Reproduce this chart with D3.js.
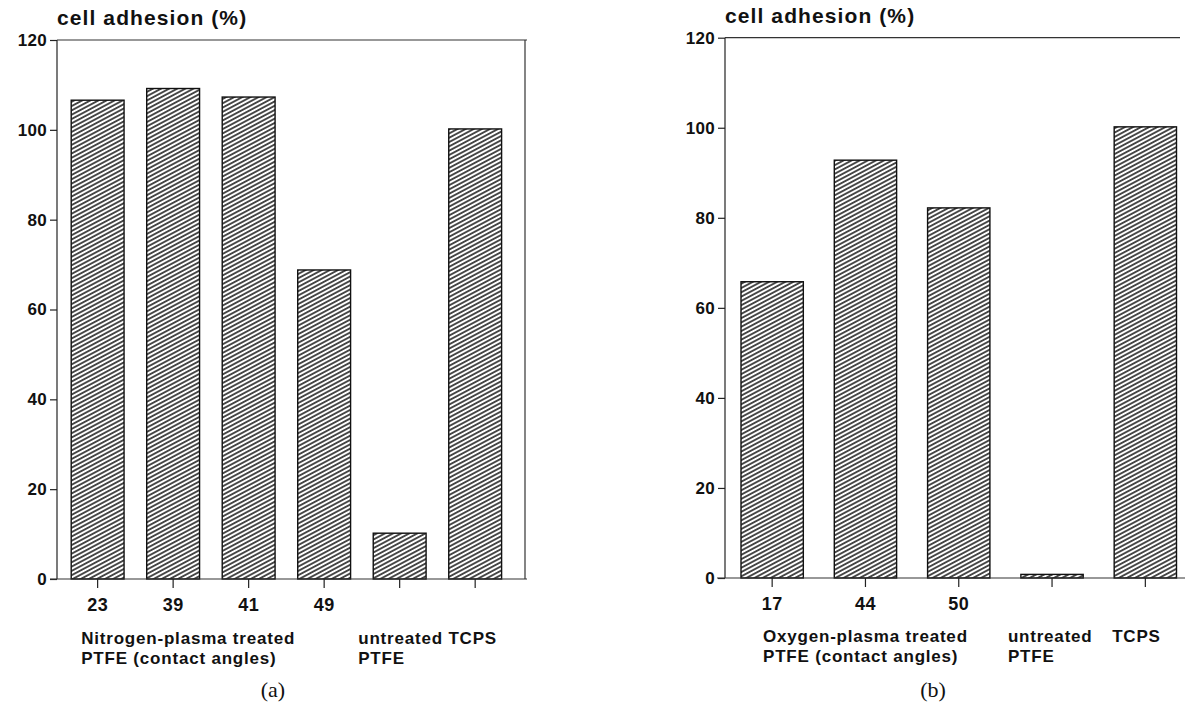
<!DOCTYPE html>
<html>
<head>
<meta charset="utf-8">
<script src="https://cdn.jsdelivr.net/npm/d3@7"></script>
<style>
  html, body { margin: 0; padding: 0; background: #fff; }
  svg { display: block; }
  .lbl { font-family: "Liberation Sans", Arial, sans-serif; font-weight: bold; fill: #111; }
  .cap { font-family: "Liberation Serif", "Times New Roman", serif; fill: #111; }
</style>
</head>
<body>
<svg id="chart" width="1185" height="702"></svg>
<script>
// ---- data ----
const yTicks = [0, 20, 40, 60, 80, 100, 120];
const yTitle = "cell adhesion (%)";

const categoriesA = ["23", "39", "41", "49", "untreated PTFE", "TCPS"];
const valuesA = [106.6, 109.2, 107.3, 68.8, 10.2, 100.2];
const tickLabelsA = ["23", "39", "41", "49", "", ""];
const groupLabelsA = [
  { at: "23", lines: ["Nitrogen-plasma treated", "PTFE (contact angles)"] },
  { at: "untreated PTFE", lines: ["untreated TCPS", "PTFE"] }
];
const captionA = "(a)";

const categoriesB = ["17", "44", "50", "untreated PTFE", "TCPS"];
const valuesB = [65.8, 92.8, 82.2, 0.8, 100.2];
const tickLabelsB = ["17", "44", "50", "", ""];
const groupLabelsB = [
  { at: "17", lines: ["Oxygen-plasma treated", "PTFE (contact angles)"] },
  { at: "untreated PTFE", lines: ["untreated", "PTFE"] },
  { at: "TCPS", lines: ["TCPS"] }
];
const captionB = "(b)";

const svg = d3.select("#chart");

// hatch pattern
const defs = svg.append("defs");
const pat = defs.append("pattern")
  .attr("id", "hatch")
  .attr("patternUnits", "userSpaceOnUse")
  .attr("width", 4).attr("height", 3.8)
  .attr("patternTransform", "rotate(-28)");
pat.append("rect").attr("width", 4).attr("height", 3.8).attr("fill", "#fff");
pat.append("line").attr("x1", 0).attr("y1", 1.9).attr("x2", 4).attr("y2", 1.9)
  .attr("stroke", "#222").attr("stroke-width", 1.6);

function panel(cfg) {
  const g = svg.append("g");
  const y = d3.scaleLinear().domain([0, 120]).range([cfg.y0, cfg.y120]);
  const x = d3.scaleBand().domain(cfg.categories)
    .range(cfg.xRange).paddingInner(cfg.pad).paddingOuter(0);

  // bars
  g.selectAll("rect.bar").data(cfg.values).enter().append("rect")
    .attr("class", "bar")
    .attr("x", (d, i) => x(cfg.categories[i]))
    .attr("width", x.bandwidth())
    .attr("y", d => y(d))
    .attr("height", d => y(0) - y(d))
    .attr("fill", "url(#hatch)")
    .attr("stroke", "#111").attr("stroke-width", 1.4);

  // y axis
  const yAxis = d3.axisLeft(y).tickValues(yTicks).tickSize(7).tickPadding(3);
  const ya = g.append("g").attr("transform", `translate(${cfg.axisX},0)`).call(yAxis);
  ya.select(".domain").attr("stroke", "#222").attr("stroke-width", 1.2)
    .attr("d", `M0,${cfg.y120}V${cfg.y0}`);
  ya.selectAll(".tick line").attr("stroke", "#222").attr("stroke-width", 1.2);
  ya.selectAll(".tick text").attr("font-size", 17)
    .style("font-family", '"Liberation Sans", Arial, sans-serif').style("font-weight", "bold")
    .style("letter-spacing", "0.3px").attr("fill", "#111");

  // x axis (baseline + ticks)
  const xAxis = d3.axisBottom(x).tickSize(9).tickPadding(10)
    .tickFormat((d, i) => cfg.tickLabels[i]);
  const xa = g.append("g").attr("transform", `translate(0,${cfg.y0})`).call(xAxis);
  xa.select(".domain").attr("stroke", "#333").attr("stroke-width", 1.2)
    .attr("d", `M${cfg.baseX0},0H${cfg.baseX1}`);
  xa.selectAll(".tick line").attr("stroke", "#222").attr("stroke-width", 1.2);
  xa.selectAll(".tick text").attr("font-size", 18)
    .style("font-family", '"Liberation Sans", Arial, sans-serif').style("font-weight", "bold")
    .style("letter-spacing", "0.4px").attr("fill", "#111");

  // frame top and right
  g.append("line").attr("x1", cfg.axisX).attr("x2", cfg.topX1)
    .attr("y1", cfg.y120).attr("y2", cfg.y120).attr("stroke", "#333").attr("stroke-width", 1.2);
  if (cfg.rightX) {
    g.append("line").attr("x1", cfg.rightX).attr("x2", cfg.rightX)
      .attr("y1", cfg.y120).attr("y2", cfg.y0).attr("stroke", "#333").attr("stroke-width", 1.2);
  }

  // y title
  g.append("text").attr("class", "lbl").attr("x", cfg.axisX).attr("y", cfg.titleY)
    .attr("font-size", 21).style("letter-spacing", "1.1px").text(yTitle);

  // group labels
  cfg.groups.forEach((gr, gi) => {
    const x0 = x(gr.at) + cfg.labelOffsets[gi];
    const t = g.append("text").attr("class", "lbl").attr("font-size", 17)
      .style("letter-spacing", "0.8px");
    gr.lines.forEach((ln, k) => {
      t.append("tspan").attr("x", x0).attr("y", cfg.groupY + k * 20).text(ln);
    });
  });

  // caption
  g.append("text").attr("class", "cap").attr("x", cfg.capX).attr("y", 697)
    .attr("text-anchor", "middle").attr("font-size", 22).text(cfg.caption);
}

panel({
  categories: categoriesA, values: valuesA, tickLabels: tickLabelsA, groups: groupLabelsA,
  caption: captionA, capX: 273,
  y0: 579, y120: 40, axisX: 57, xRange: [71.2, 501.6], pad: 0.3,
  baseX0: 50, baseX1: 527, topX1: 527, rightX: 525,
  titleY: 25, groupY: 644, labelOffsets: [10, -15]
});

panel({
  categories: categoriesB, values: valuesB, tickLabels: tickLabelsB, groups: groupLabelsB,
  caption: captionB, capX: 933,
  y0: 578, y120: 37.7, axisX: 725, xRange: [741, 1176.5], pad: 0.332,
  baseX0: 717, baseX1: 1185, topX1: 1180, rightX: null,
  titleY: 23, groupY: 642, labelOffsets: [22, -13, -2]
});
</script>
</body>
</html>
